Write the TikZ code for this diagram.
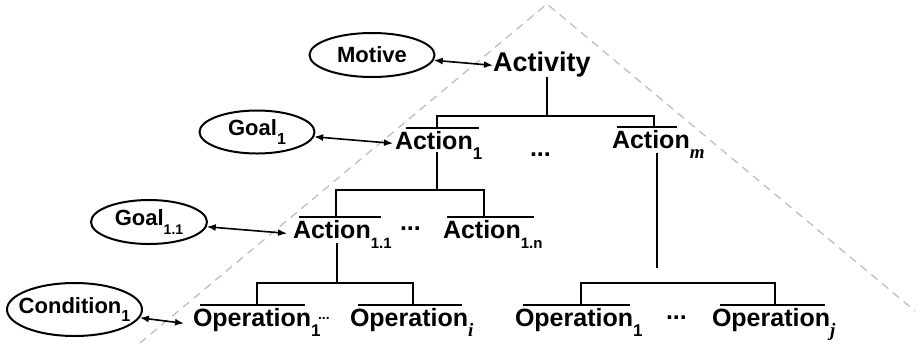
\documentclass[tikz,border=0pt]{standalone}
\usepackage{fontspec}
\setmainfont{Liberation Sans}
\newfontfamily\subitfont{Liberation Serif}
\usetikzlibrary{shapes.geometric,arrows.meta}
\newcommand\ixsub[2][17]{\raisebox{-0.4em}{\fontsize{#1}{#1}\selectfont #2}}
\newcommand\ixsubit[1]{\raisebox{-0.4em}{\fontsize{19}{19}\selectfont\subitfont\bfseries\itshape #1}}

\begin{document}
\begin{tikzpicture}[x=1pt, y=-1pt,
    lvl/.style={inner sep=0pt, outer sep=0pt, font=\fontsize{25}{30}\selectfont\bfseries},
    aim/.style={ellipse, draw, line width=2pt, inner sep=0pt, font=\fontsize{22}{26}\selectfont\bfseries},
    link/.style={line width=1.8pt},
    twoway/.style={line width=1.6pt, {Latex[length=9pt,width=7pt]}-{Latex[length=9pt,width=7pt]}},
    hull/.style={draw=black!25, line width=1.3pt, dash pattern=on 8pt off 6pt}]
  \useasboundingbox (0,0) rectangle (920,346);
  \draw[hull] (140,343) -- (547,4) -- (915,311);

  \node[lvl, anchor=base west, font=\fontsize{27}{30}\selectfont\bfseries] (act) at (493,71) {Activity};
  \node[lvl, anchor=base west] (a1) at (395,149) {Action\rlap{\ixsub{1}}};
  \node[lvl, anchor=base west] (am) at (612,148) {Action\rlap{\ixsubit{m}}};
  \node[lvl, anchor=base west] (a11) at (293,238) {Action\rlap{\ixsub[15]{1.1}}};
  \node[lvl, anchor=base west] (a1n) at (443,238) {Action\rlap{\ixsub[15]{1.n}}};
  \node[lvl, anchor=base west] (o1) at (193,326) {Operation\rlap{\ixsub{1}}};
  \node[lvl, anchor=base west] (oi) at (350,326) {Operation\rlap{\ixsubit{i}}};
  \node[lvl, anchor=base west] (oj1) at (515,326) {Operation\rlap{\ixsub{1}}};
  \node[lvl, anchor=base west] (oj) at (712,326) {Operation\rlap{\ixsubit{j}}};

  \node[lvl, anchor=base west] (d1) at (530,156) {...};
  \node[lvl, anchor=base west] (d2) at (400,238) {\raisebox{8pt}{...}};
  \node[lvl, anchor=base west, font=\fontsize{14}{14}\selectfont\bfseries] (d3) at (318,326) {\raisebox{7pt}{...}};
  \node[lvl, anchor=base west] (d4) at (666,326) {\raisebox{7pt}{...}};

  \node[aim, minimum width=125pt, minimum height=44pt] (motive) at (372,55) {\makebox[0pt]{Motive}};
  \node[aim, minimum width=115pt, minimum height=43pt] (goal1) at (257,132) {\makebox[0pt]{Goal\ixsub[16]{1}}};
  \node[aim, minimum width=116pt, minimum height=44pt] (goal11) at (149,222) {\makebox[0pt]{Goal\ixsub[14]{1.1}}};
  \node[aim, minimum width=135pt, minimum height=53pt] (cond1) at (74.5,309.5) {\makebox[0pt]{Condition\ixsub[16]{1}}};

  \foreach \lo/\n/\ro in {11/a1/6, 5/am/-13, 6/a11/10, 4/a1n/13, 7/o1/-6, 8/oi/-6, 8/oj1/-3, 8/oj/-5}
    \draw[link] ([shift={(\lo pt,3pt)}]\n.north west) -- ([shift={(\ro pt,3pt)}]\n.north east);

  \draw[link] ([xshift=5pt]act.south) -- ++(0,39) coordinate (r0)
    -| ([shift={(3pt,3pt)}]a1.north) (r0) -| ([shift={(3pt,3pt)}]am.north);
  \draw[link] ([shift={(3pt,-3pt)}]a1.base) -- ++(0,38) coordinate (r1)
    -| ([shift={(4pt,3pt)}]a11.north) (r1) -| ([shift={(2pt,3pt)}]a1n.north);
  \draw[link] ([shift={(6pt,-5pt)}]am.base) -- ++(0,115);
  \draw[link] ([shift={(5pt,-5pt)}]a11.base) -- ++(0,40) coordinate (r2)
    -| ([shift={(5pt,3pt)}]o1.north) (r2) -| ([shift={(4pt,3pt)}]oi.north);
  \draw[link] ([shift={(7pt,3pt)}]oj1.north) -- ++(0,-22) -| ([shift={(4pt,3pt)}]oj.north);

  \draw[twoway] (motive) -- ([yshift=3pt]act.mid west);
  \draw[twoway] (goal1) -- ([shift={(-2pt,3pt)}]a1.mid west);
  \draw[twoway] (goal11) -- ([shift={(-6pt,2pt)}]a11.mid west);
  \draw[twoway] (cond1) -- ([xshift=-9pt]o1.mid west);
\end{tikzpicture}
\end{document}
